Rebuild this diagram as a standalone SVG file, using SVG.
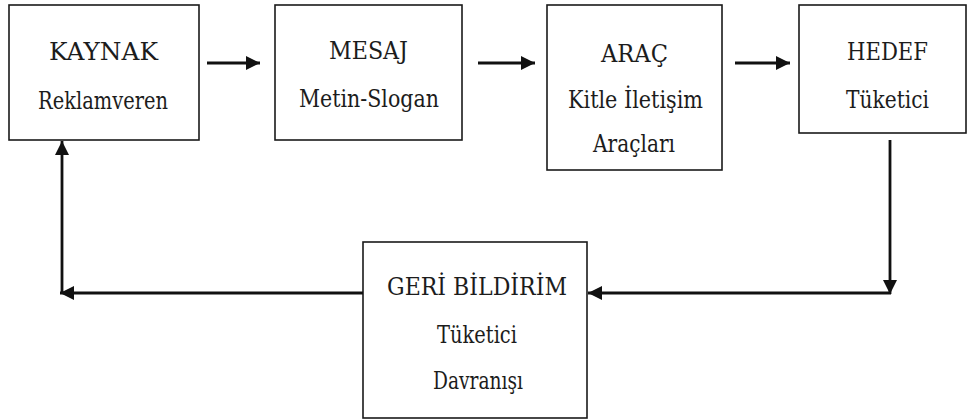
<svg xmlns="http://www.w3.org/2000/svg" width="968" height="420" viewBox="0 0 968 420">
  <style>
    .box { fill: #ffffff; stroke: #1a1a1a; stroke-width: 1.6; }
    .lbl { font-family: 'DejaVu Serif', 'Liberation Serif', serif; font-size: 25px; fill: #1c1c1c; }
    .link { fill: none; stroke: #111111; stroke-width: 2.8; }
  </style>
  <defs>
    <marker id="head" viewBox="0 0 14 14" refX="14" refY="7" markerWidth="14" markerHeight="14" markerUnits="userSpaceOnUse" orient="auto">
      <path d="M0,0 L14,7 L0,14 Z" fill="#111111"/>
    </marker>
  </defs>
  <rect width="968" height="420" fill="#ffffff"/>

  <g id="kaynak">
    <rect class="box" x="9" y="5" width="190" height="135"/>
    <text class="lbl" x="49" y="60" textLength="109" lengthAdjust="spacingAndGlyphs">KAYNAK</text>
    <text class="lbl" x="38" y="109" textLength="130" lengthAdjust="spacingAndGlyphs">Reklamveren</text>
  </g>

  <g id="mesaj">
    <rect class="box" x="275" y="5" width="187" height="135"/>
    <text class="lbl" x="329" y="59" textLength="79" lengthAdjust="spacingAndGlyphs">MESAJ</text>
    <text class="lbl" x="299" y="107" textLength="140" lengthAdjust="spacingAndGlyphs">Metin-Slogan</text>
  </g>

  <g id="arac">
    <rect class="box" x="547" y="5" width="175" height="165"/>
    <text class="lbl" x="601" y="62" textLength="67" lengthAdjust="spacingAndGlyphs">ARAÇ</text>
    <text class="lbl" x="568" y="108" textLength="135" lengthAdjust="spacingAndGlyphs">Kitle İletişim</text>
    <text class="lbl" x="593" y="152" textLength="82" lengthAdjust="spacingAndGlyphs">Araçları</text>
  </g>

  <g id="hedef">
    <rect class="box" x="799" y="5" width="167" height="128"/>
    <text class="lbl" x="847" y="60" textLength="81" lengthAdjust="spacingAndGlyphs">HEDEF</text>
    <text class="lbl" x="846" y="108" textLength="83" lengthAdjust="spacingAndGlyphs">Tüketici</text>
  </g>

  <g id="geri-bildirim">
    <rect class="box" x="363" y="242" width="224" height="176"/>
    <text class="lbl" x="387" y="295" textLength="180" lengthAdjust="spacingAndGlyphs">GERİ BİLDİRİM</text>
    <text class="lbl" x="437" y="343" textLength="80" lengthAdjust="spacingAndGlyphs">Tüketici</text>
    <text class="lbl" x="433" y="389" textLength="90" lengthAdjust="spacingAndGlyphs">Davranışı</text>
  </g>

  <g id="connectors">
    <line class="link" x1="207" y1="63" x2="260" y2="63" marker-end="url(#head)"/>
    <line class="link" x1="478" y1="63" x2="535" y2="63" marker-end="url(#head)"/>
    <line class="link" x1="735" y1="63" x2="790" y2="63" marker-end="url(#head)"/>
    <line class="link" x1="890" y1="140" x2="890" y2="294" marker-end="url(#head)"/>
    <line class="link" x1="891" y1="293" x2="588" y2="293" marker-end="url(#head)"/>
    <line class="link" x1="363" y1="293" x2="60" y2="293" marker-end="url(#head)"/>
    <line class="link" x1="62" y1="294" x2="62" y2="141" marker-end="url(#head)"/>
  </g>
</svg>
